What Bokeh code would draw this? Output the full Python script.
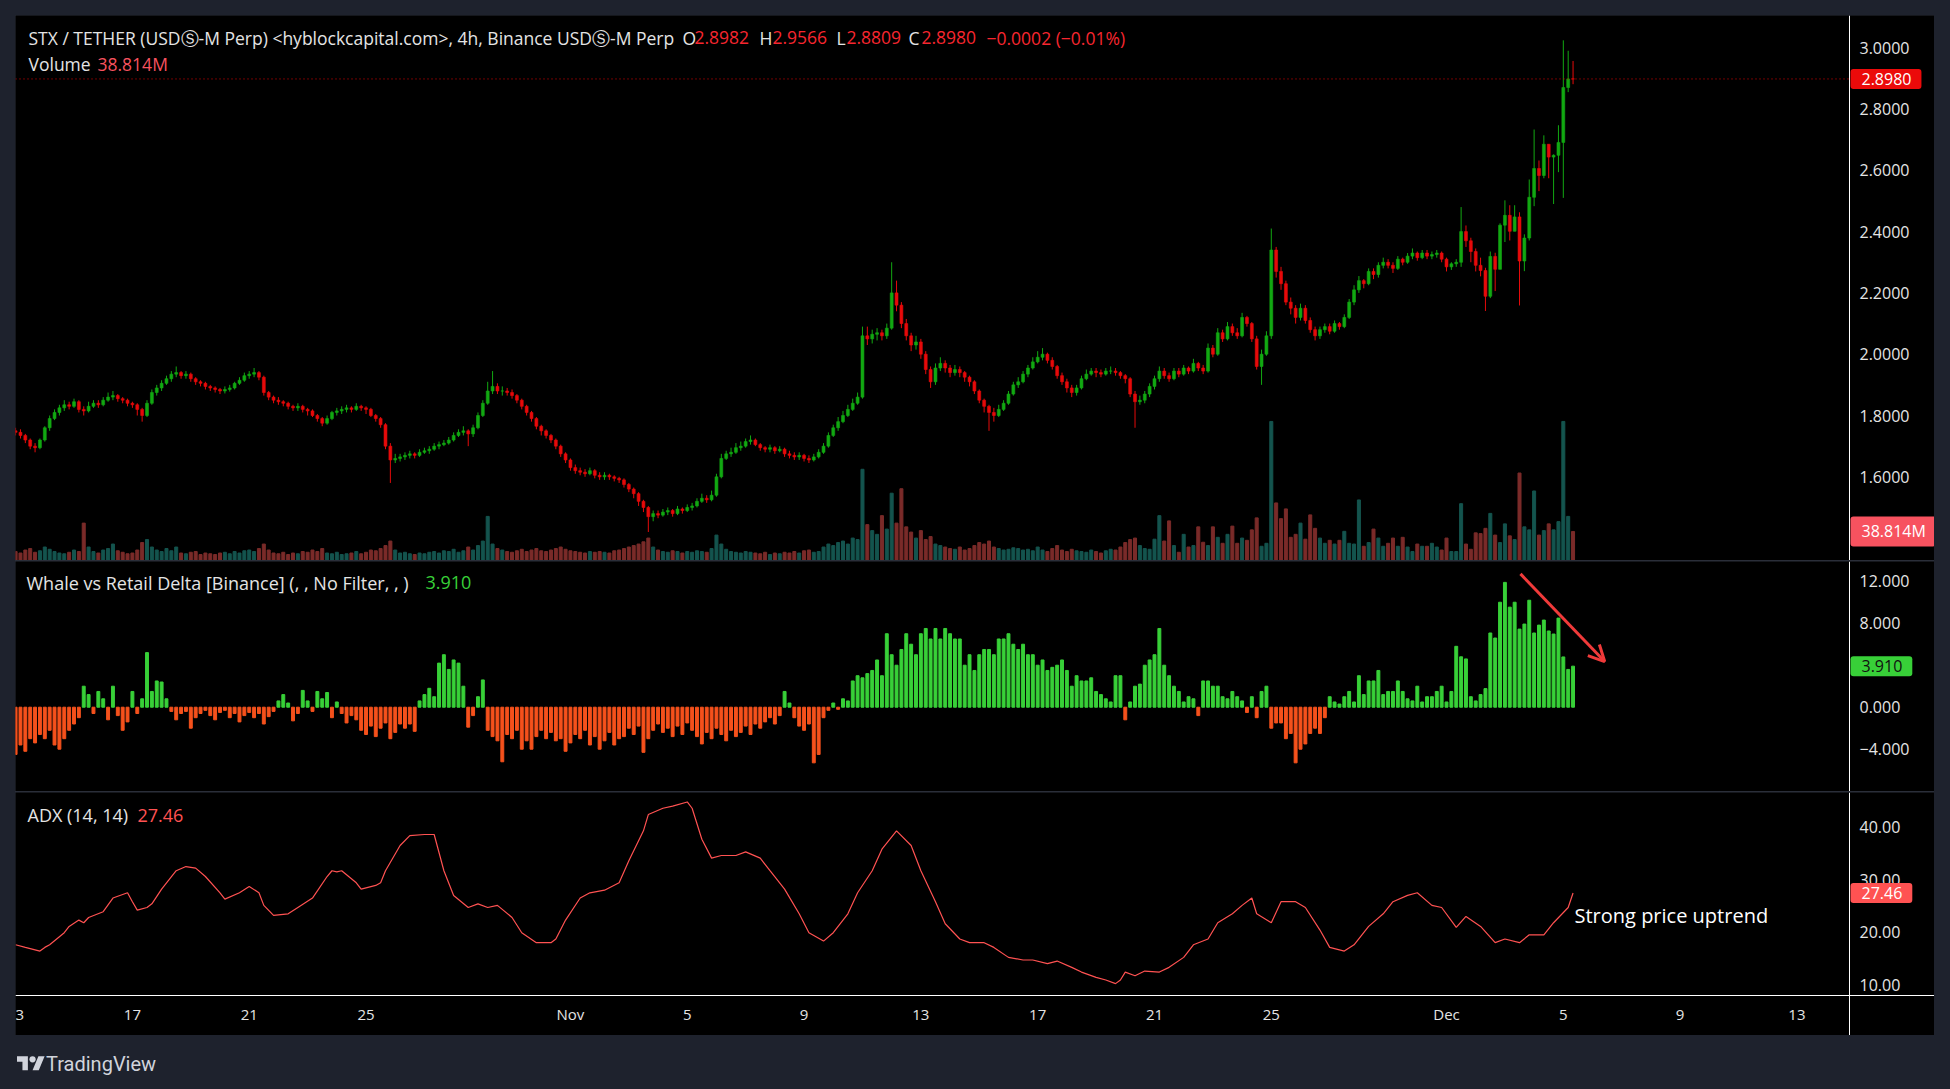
from bokeh.plotting import figure
from bokeh.models import (Range1d, FixedTicker, PrintfTickFormatter, Label,
                          Arrow, OpenHead, Div, Spacer, ColumnDataSource)
from bokeh.layouts import column, row
from bokeh.embed import file_html
from bokeh.resources import INLINE

# ---------------- data (4h candles, index 0 = Oct 13 00:00) ----------------
day_ticks = [0, 24, 48, 72, 114, 138, 162, 186, 210, 234, 258, 294, 318, 342, 366]
# first label is cut by the left edge in the source chart: only "3" of "13" shows
day_labels = ["3", "17", "21", "25", "Nov", "5", "9", "13", "17", "21", "25", "Dec", "5", "9", "13"]

open0 = 1.75
close = [
    1.745, 1.735, 1.72, 1.70, 1.695, 1.72, 1.76, 1.79, 1.81, 1.825,
    1.835, 1.83, 1.845, 1.82, 1.815, 1.83, 1.84, 1.835, 1.85, 1.86,
    1.865, 1.855, 1.85, 1.84, 1.835, 1.82, 1.80, 1.84, 1.875, 1.89,
    1.905, 1.92, 1.935, 1.94, 1.93, 1.935, 1.92, 1.91, 1.905, 1.895,
    1.89, 1.885, 1.88, 1.885, 1.89, 1.905, 1.915, 1.93, 1.935, 1.94,
    1.925, 1.875, 1.86, 1.85, 1.845, 1.84, 1.83, 1.825, 1.83, 1.82,
    1.815, 1.80, 1.79, 1.775, 1.79, 1.81, 1.815, 1.82, 1.825, 1.82,
    1.83, 1.825, 1.82, 1.80, 1.79, 1.77, 1.70, 1.655, 1.66, 1.665,
    1.67, 1.675, 1.67, 1.68, 1.685, 1.69, 1.70, 1.705, 1.71, 1.72,
    1.735, 1.745, 1.75, 1.74, 1.76, 1.80, 1.84, 1.88, 1.895, 1.88,
    1.88, 1.875, 1.865, 1.85, 1.83, 1.81, 1.79, 1.765, 1.75, 1.735,
    1.72, 1.70, 1.675, 1.655, 1.63, 1.62, 1.615, 1.61, 1.62, 1.605,
    1.60, 1.605, 1.60, 1.595, 1.59, 1.575, 1.56, 1.545, 1.52, 1.50,
    1.47, 1.48, 1.475, 1.485, 1.49, 1.48, 1.495, 1.49, 1.50, 1.505,
    1.52, 1.53, 1.525, 1.54, 1.60, 1.66, 1.675, 1.68, 1.695, 1.70,
    1.715, 1.72, 1.705, 1.695, 1.69, 1.695, 1.685, 1.69, 1.675, 1.67,
    1.665, 1.67, 1.66, 1.655, 1.665, 1.68, 1.70, 1.735, 1.76, 1.78,
    1.80, 1.82, 1.84, 1.86, 2.06, 2.05, 2.065, 2.07, 2.06, 2.085,
    2.20, 2.16, 2.10, 2.06, 2.03, 2.04, 2.00, 1.95, 1.91, 1.955,
    1.97, 1.955, 1.94, 1.95, 1.94, 1.925, 1.91, 1.88, 1.85, 1.83,
    1.81, 1.80, 1.82, 1.84, 1.87, 1.90, 1.91, 1.935, 1.955, 1.975,
    1.99, 2.00, 1.98, 1.96, 1.93, 1.91, 1.89, 1.875, 1.89, 1.92,
    1.935, 1.945, 1.94, 1.935, 1.945, 1.945, 1.94, 1.93, 1.92, 1.87,
    1.845, 1.85, 1.87, 1.895, 1.92, 1.945, 1.93, 1.92, 1.945, 1.935,
    1.955, 1.945, 1.97, 1.955, 1.945, 2.02, 2.00, 2.07, 2.05, 2.09,
    2.07, 2.06, 2.12, 2.10, 2.05, 1.96, 2.00, 2.06, 2.34, 2.27,
    2.23, 2.17, 2.15, 2.12, 2.15, 2.11, 2.08, 2.06, 2.08, 2.09,
    2.075, 2.10, 2.09, 2.12, 2.17, 2.21, 2.24, 2.23, 2.27, 2.26,
    2.29, 2.30, 2.29, 2.28, 2.31, 2.30, 2.32, 2.33, 2.315, 2.33,
    2.32, 2.325, 2.33, 2.31, 2.285, 2.295, 2.30, 2.40, 2.37, 2.335,
    2.29, 2.273, 2.189, 2.319, 2.277, 2.421, 2.453, 2.401, 2.448, 2.304,
    2.379, 2.512, 2.606, 2.583, 2.685, 2.643, 2.649, 2.691, 2.870, 2.8982,
    2.8980,
]
high = [
    1.76, 1.755, 1.74, 1.725, 1.71, 1.725, 1.765, 1.80, 1.82, 1.835,
    1.85, 1.845, 1.855, 1.85, 1.83, 1.845, 1.85, 1.85, 1.86, 1.875,
    1.88, 1.87, 1.86, 1.855, 1.845, 1.84, 1.825, 1.85, 1.885, 1.90,
    1.915, 1.93, 1.945, 1.96, 1.945, 1.945, 1.94, 1.925, 1.915, 1.91,
    1.90, 1.895, 1.89, 1.895, 1.90, 1.91, 1.925, 1.94, 1.945, 1.955,
    1.945, 1.93, 1.88, 1.865, 1.86, 1.85, 1.845, 1.835, 1.84, 1.835,
    1.825, 1.82, 1.805, 1.795, 1.80, 1.815, 1.825, 1.83, 1.835, 1.83,
    1.84, 1.835, 1.83, 1.825, 1.805, 1.795, 1.775, 1.71, 1.675, 1.675,
    1.68, 1.685, 1.68, 1.69, 1.695, 1.70, 1.71, 1.715, 1.72, 1.73,
    1.745, 1.755, 1.765, 1.755, 1.77, 1.81, 1.85, 1.91, 1.945, 1.905,
    1.895, 1.89, 1.885, 1.87, 1.855, 1.835, 1.815, 1.795, 1.77, 1.755,
    1.74, 1.725, 1.705, 1.68, 1.66, 1.64, 1.63, 1.625, 1.63, 1.625,
    1.615, 1.615, 1.61, 1.605, 1.60, 1.595, 1.58, 1.565, 1.55, 1.525,
    1.505, 1.49, 1.49, 1.495, 1.50, 1.495, 1.505, 1.50, 1.51, 1.515,
    1.53, 1.545, 1.54, 1.555, 1.61, 1.675, 1.685, 1.695, 1.71, 1.715,
    1.725, 1.735, 1.725, 1.71, 1.70, 1.705, 1.70, 1.70, 1.695, 1.685,
    1.68, 1.68, 1.675, 1.67, 1.675, 1.69, 1.71, 1.745, 1.77, 1.795,
    1.815, 1.835, 1.855, 1.875, 2.09, 2.09, 2.08, 2.085, 2.08, 2.10,
    2.30, 2.24, 2.17, 2.115, 2.07, 2.06, 2.05, 2.01, 1.96, 1.97,
    1.99, 1.98, 1.965, 1.965, 1.96, 1.945, 1.93, 1.915, 1.885, 1.855,
    1.835, 1.825, 1.835, 1.85, 1.88, 1.91, 1.925, 1.945, 1.965, 1.99,
    2.01, 2.02, 2.005, 1.99, 1.965, 1.94, 1.92, 1.90, 1.90, 1.93,
    1.95, 1.955, 1.955, 1.95, 1.955, 1.96, 1.955, 1.945, 1.935, 1.925,
    1.88, 1.865, 1.88, 1.905, 1.93, 1.96, 1.955, 1.94, 1.955, 1.955,
    1.965, 1.96, 1.985, 1.975, 1.965, 2.035, 2.03, 2.085, 2.08, 2.105,
    2.10, 2.085, 2.135, 2.125, 2.105, 2.06, 2.015, 2.075, 2.41, 2.35,
    2.285, 2.24, 2.185, 2.16, 2.165, 2.16, 2.12, 2.09, 2.09, 2.10,
    2.10, 2.11, 2.105, 2.13, 2.18, 2.225, 2.255, 2.245, 2.28, 2.28,
    2.30, 2.315, 2.31, 2.30, 2.32, 2.315, 2.33, 2.345, 2.335, 2.34,
    2.34, 2.335, 2.34, 2.335, 2.315, 2.30, 2.31, 2.48, 2.42, 2.38,
    2.345, 2.315, 2.282, 2.335, 2.331, 2.427, 2.502, 2.486, 2.486, 2.463,
    2.391, 2.570, 2.733, 2.632, 2.714, 2.685, 2.652, 2.747, 3.024, 2.99,
    2.9566,
]
low = [
    1.735, 1.725, 1.71, 1.69, 1.68, 1.69, 1.715, 1.75, 1.785, 1.80,
    1.815, 1.82, 1.825, 1.81, 1.80, 1.81, 1.825, 1.825, 1.83, 1.845,
    1.85, 1.845, 1.84, 1.83, 1.825, 1.80, 1.78, 1.795, 1.835, 1.865,
    1.88, 1.90, 1.91, 1.925, 1.92, 1.92, 1.91, 1.90, 1.895, 1.885,
    1.88, 1.875, 1.87, 1.872, 1.878, 1.885, 1.90, 1.91, 1.92, 1.925,
    1.915, 1.865, 1.85, 1.84, 1.835, 1.83, 1.82, 1.815, 1.815, 1.81,
    1.80, 1.795, 1.78, 1.765, 1.77, 1.785, 1.80, 1.805, 1.81, 1.81,
    1.815, 1.815, 1.805, 1.795, 1.78, 1.76, 1.69, 1.58, 1.645, 1.65,
    1.655, 1.66, 1.66, 1.665, 1.675, 1.675, 1.685, 1.69, 1.70, 1.705,
    1.715, 1.73, 1.735, 1.70, 1.73, 1.755, 1.795, 1.835, 1.87, 1.87,
    1.865, 1.865, 1.855, 1.84, 1.82, 1.80, 1.78, 1.755, 1.735, 1.725,
    1.71, 1.69, 1.665, 1.645, 1.62, 1.61, 1.605, 1.60, 1.605, 1.595,
    1.59, 1.59, 1.59, 1.585, 1.58, 1.565, 1.55, 1.53, 1.505, 1.485,
    1.42, 1.455, 1.465, 1.47, 1.475, 1.47, 1.475, 1.48, 1.485, 1.49,
    1.50, 1.515, 1.515, 1.52, 1.535, 1.595, 1.655, 1.665, 1.675, 1.685,
    1.695, 1.705, 1.70, 1.685, 1.68, 1.68, 1.675, 1.68, 1.665, 1.66,
    1.655, 1.655, 1.65, 1.645, 1.65, 1.66, 1.675, 1.695, 1.73, 1.75,
    1.775, 1.795, 1.815, 1.835, 1.855, 2.03, 2.035, 2.045, 2.045, 2.05,
    2.08, 2.14, 2.085, 2.045, 2.01, 2.015, 1.985, 1.935, 1.89, 1.90,
    1.945, 1.94, 1.925, 1.93, 1.925, 1.91, 1.895, 1.87, 1.84, 1.81,
    1.75, 1.78, 1.795, 1.815, 1.835, 1.865, 1.89, 1.905, 1.925, 1.95,
    1.97, 1.98, 1.97, 1.95, 1.92, 1.90, 1.875, 1.86, 1.865, 1.885,
    1.915, 1.93, 1.925, 1.925, 1.93, 1.935, 1.93, 1.92, 1.905, 1.86,
    1.76, 1.835, 1.84, 1.86, 1.885, 1.91, 1.92, 1.91, 1.915, 1.925,
    1.93, 1.935, 1.94, 1.945, 1.935, 1.94, 1.99, 1.995, 2.04, 2.045,
    2.06, 2.05, 2.055, 2.09, 2.04, 1.95, 1.90, 1.995, 2.05, 2.25,
    2.21, 2.16, 2.13, 2.10, 2.11, 2.10, 2.07, 2.045, 2.05, 2.07,
    2.065, 2.07, 2.08, 2.085, 2.115, 2.16, 2.20, 2.215, 2.225, 2.245,
    2.25, 2.28, 2.28, 2.265, 2.275, 2.29, 2.295, 2.31, 2.305, 2.31,
    2.31, 2.31, 2.315, 2.30, 2.27, 2.275, 2.285, 2.285, 2.35, 2.30,
    2.27, 2.254, 2.141, 2.183, 2.206, 2.277, 2.366, 2.371, 2.401, 2.159,
    2.271, 2.371, 2.483, 2.532, 2.574, 2.574, 2.490, 2.594, 2.510, 2.855,
    2.8809,
]
volume_m = [
    12, 10, 14, 16, 11, 13, 18, 15, 12, 10,
    9, 11, 14, 12, 50, 18, 12, 10, 14, 16,
    22, 13, 11, 9, 10, 14, 24, 28, 18, 14,
    12, 16, 13, 18, 10, 9, 11, 12, 8, 10,
    9, 8, 10, 11, 9, 12, 10, 13, 14, 12,
    16, 22, 14, 10, 9, 11, 8, 10, 9, 12,
    11, 14, 12, 16, 10, 9, 11, 8, 9, 10,
    12, 9, 11, 14, 13, 16, 20, 26, 14, 10,
    11, 9, 8, 10, 9, 11, 12, 10, 13, 12,
    15, 11, 13, 18, 14, 20, 26, 59, 22, 16,
    14, 12, 11, 13, 15, 12, 14, 16, 13, 12,
    14, 16, 18, 15, 13, 12, 11, 10, 12, 11,
    12, 11, 10, 13, 14, 16, 18, 20, 22, 25,
    30, 18, 14, 12, 11, 13, 12, 10, 12, 11,
    13, 12, 11, 16, 34, 22, 15, 12, 11, 10,
    12, 11, 10, 9, 11, 8, 10, 9, 11, 10,
    12, 10, 13, 14, 11, 12, 18, 22, 20, 24,
    26, 22, 30, 28, 122, 48, 40, 35, 60, 42,
    90, 50, 96, 45, 38, 30, 40, 28, 32, 22,
    20, 18, 16, 15, 18, 14, 16, 20, 24, 22,
    26, 18, 16, 14, 15, 17, 16, 14, 15, 13,
    18, 14, 12, 16, 20, 14, 12, 15, 13, 12,
    11, 14, 12, 10, 13, 15, 14, 18, 24, 28,
    30, 20, 16, 15, 28.5, 60, 26, 53, 20, 11,
    35, 18, 20, 45, 24.4, 20, 45, 31, 23, 35,
    46, 23, 30, 27, 41, 57, 19, 23, 186, 77,
    56, 69, 31, 35, 50, 28.5, 61, 43, 30, 23,
    27, 22, 27, 39, 23, 22, 81, 19, 24, 42,
    30, 19, 23, 30, 19, 31, 18, 12, 22, 19,
    19, 23, 18, 14, 30, 12, 12, 76, 22, 15,
    37, 36, 43, 63, 34, 24, 49, 33, 28, 117,
    45, 41, 93, 34, 40, 49, 41, 52, 186, 59,
    38.814,
]
delta = [
    -4.5, -3.6, -4.2, -3.0, -3.4, -2.6, -3.0, -2.2, -3.6, -4.0,
    -3.0, -2.2, -1.6, -1.0, 2.0, 1.2, -0.6, 1.5, 0.8, -1.2,
    2.0, -0.8, -2.2, -1.4, 1.5, -0.6, 0.8, 5.2, 1.5, 2.5,
    2.4, 0.8, -0.4, -1.2, -0.6, -0.4, -2.0, -1.0, -0.6, -0.3,
    -0.8, -1.2, -0.5, -0.3, -1.0, -0.6, -1.4, -0.8, -0.5, -1.0,
    -0.6, -1.6, -0.9, -0.4, 0.6, 1.2, 0.4, -1.3, -0.6, 1.6,
    0.6, -0.4, 1.5, 0.8, 1.4, -1.0, 0.5, -0.6, -1.5, -0.8,
    -1.2, -2.2, -2.6, -1.8, -2.8, -2.0, -1.5, -3.0, -2.4, -1.6,
    -2.0, -1.6, -2.3, 0.6, 1.2, 1.8, 1.0, 4.2, 5.0, 3.6,
    4.5, 4.2, 2.0, -1.9, -0.8, 1.0, 2.6, -2.2, -2.8, -3.2,
    -5.2, -2.6, -3.0, -2.2, -4.0, -3.2, -4.0, -2.8, -2.2, -3.0,
    -2.4, -3.2, -3.0, -4.2, -3.4, -2.6, -3.0, -2.2, -3.6, -2.8,
    -4.0, -3.2, -2.4, -3.6, -3.0, -2.8, -2.0, -2.6, -1.8, -4.3,
    -3.0, -2.2, -1.6, -2.4, -2.0, -2.8, -1.8, -2.6, -1.5, -2.2,
    -2.8, -3.5, -2.4, -3.0, -2.0, -2.6, -3.2, -2.2, -2.8, -2.4,
    -1.8, -2.6, -1.6, -2.0, -1.4, -1.0, -1.6, -0.8, 1.5, 0.4,
    -1.0, -1.8, -2.2, -1.6, -5.3, -4.5, -1.0, -0.3, 0.4, -0.2,
    0.8, 0.6, 2.5, 3.0, 2.8, 3.2, 3.5, 4.5, 3.0, 7.0,
    5.0, 4.0, 5.5, 7.0, 6.0, 5.0, 7.0, 7.5, 6.5, 7.5,
    6.5, 7.5, 7.0, 6.5, 6.5, 4.0, 5.0, 3.5, 5.0, 5.5,
    5.5, 5.0, 6.5, 6.5, 7.0, 6.0, 5.5, 6.0, 5.0, 5.0,
    4.0, 4.5, 3.5, 3.8, 4.0, 4.5, 3.5, 2.0, 3.0, 2.5,
    2.5, 2.8, 1.5, 1.2, 0.8, 0.5, 3.0, 3.0, -1.2, 0.5,
    2.0, 2.2, 4.0, 4.5, 5.0, 7.5, 4.0, 3.0, 2.0, 1.5,
    0.5, 1.0, 0.8, -0.8, 2.5, 2.5, 2.0, 2.0, 1.0, 0.8,
    1.5, 1.0, 0.6, -0.5, 1.0, -1.0, 1.5, 2.0, -2.0, -1.5,
    -1.5, -3.0, -2.5, -5.3, -4.0, -3.5, -2.5, -2.0, -2.5, -1.0,
    1.0, 0.5, 0.3, 1.0, 1.5, 0.5, 3.0, 1.2, 2.5, 2.5,
    3.5, 1.2, 1.5, 1.5, 2.5, 1.5, 0.8, 0.6, 2.0, 0.5,
    1.0, 1.0, 1.5, 2.0, 0.5, 1.5, 5.8, 4.8, 4.6, 1.0,
    0.6, 1.2, 1.77, 7.07, 6.59, 10.0, 11.89, 9.53, 10.0, 7.44,
    7.92, 10.19, 7.07, 7.82, 8.30, 7.26, 6.97, 8.49, 4.79, 3.6,
    3.91,
]
adx_idx = [
    0, 2, 5, 6, 7, 10, 11, 13, 14, 15, 18, 20, 23, 24, 25, 27, 28, 30, 33, 35,
    37, 39, 42, 43, 46, 48, 50, 51, 53, 56, 58, 61, 64, 65, 66, 67, 70, 71, 74, 75,
    76, 79, 81, 84, 86, 88, 90, 93, 95, 97, 99, 102, 104, 107, 110, 111, 113, 116, 118, 121,
    124, 126, 129, 130, 133, 135, 138, 139, 141, 143, 145, 148, 150, 153, 155, 158, 161, 163, 166, 168,
    171, 173, 176, 178, 181, 184, 186, 189, 191, 194, 196, 199, 201, 204, 207, 209, 212, 214, 217, 219,
    222, 224, 226, 227, 228, 230, 232, 235, 237, 240, 242, 245, 247, 250, 252, 254, 255, 258, 260, 263,
    265, 268, 270, 273, 275, 278, 281, 283, 286, 288, 291, 293, 296, 298, 301, 304, 306, 309, 311, 314,
    316, 319, 320,
]
adx_val = [
    17.6, 17.1, 16.4, 17.1, 17.6, 19.9, 21.1, 22.3, 21.8, 22.8, 23.9, 26.5, 27.5, 25.8, 24.2, 24.7, 25.4, 28.2, 31.7, 32.5,
    32.2, 30.6, 27.5, 26.3, 27.5, 28.7, 27.5, 25.1, 23.2, 23.5, 24.7, 26.5, 30.6, 31.7, 31.5, 31.7, 29.4, 28.2, 28.9, 29.4,
    31.7, 36.5, 38.4, 38.6, 38.6, 31.7, 27.0, 24.7, 25.4, 24.7, 25.1, 22.8, 19.9, 18.0, 18.0, 18.7, 22.3, 26.5, 27.5, 28.0,
    29.4, 33.6, 39.3, 42.4, 43.6, 44.0, 44.8, 43.6, 37.7, 34.1, 34.6, 34.6, 35.3, 34.1, 31.7, 28.2, 23.5, 19.9, 18.3, 19.9,
    23.5, 27.5, 31.7, 35.8, 39.3, 36.5, 31.7, 25.8, 21.6, 18.7, 18.0, 18.0, 17.1, 15.2, 14.7, 14.7, 14.0, 14.5, 13.3, 12.4,
    11.4, 10.9, 10.2, 10.9, 12.4, 11.7, 12.6, 12.4, 13.3, 15.2, 17.6, 18.7, 21.8, 23.5, 25.1, 26.5, 23.5, 21.8, 25.8, 25.8,
    24.7, 20.4, 17.1, 16.4, 17.6, 21.1, 23.5, 25.8, 27.0, 27.5, 25.1, 24.7, 20.9, 23.0, 21.1, 18.0, 18.7, 18.0, 19.5, 19.5,
    21.8, 24.7, 27.46,
]
price_ticks = [1.6, 1.8, 2.0, 2.2, 2.4, 2.6, 2.8, 3.0]
delta_ticks = [-4, 0, 8, 12]
adx_ticks = [10, 20, 30, 40]

# ---------------- styling ----------------
UP, DN = "#12a812", "#e60a0a"
VUP, VDN = "#14544e", "#7a2b29"
DPOS, DNEG = "#38d038", "#f5511c"
ADXC = "#ff5252"
TXT = "#e4e4e4"
FONT = "Open Sans"
FW = 1919          # figure width = plot area + price-scale strip
FRAME_W = 1834     # plot area width (price-scale strip is the remaining 85px)
X0, AXIS_X = -0.02, 376.8
X1 = X0 + (AXIS_X - X0) * FW / FRAME_W

n = len(close)
xs = list(range(n))
opens = [open0] + close[:-1]
isup = [c >= o for o, c in zip(opens, close)]
src = ColumnDataSource(dict(
    x=xs, h=high, l=low,
    top=[max(o, c) for o, c in zip(opens, close)],
    bot=[min(o, c) for o, c in zip(opens, close)],
    col=[UP if u else DN for u in isup],
    vol=volume_m,
    vcol=[VUP if u else VDN for u in isup],
))
dsrc = ColumnDataSource(dict(x=xs, d=delta, col=[DPOS if d >= 0 else DNEG for d in delta]))

xr = Range1d(X0, X1)


def make_fig(h, yr, xaxis=None):
    p = figure(width=FW, height=h, x_range=xr, y_range=yr, output_backend="svg",
               toolbar_location=None, y_axis_location="right", x_axis_location=xaxis,
               min_border_left=0, min_border_right=0, min_border_top=0, min_border_bottom=0,
               background_fill_color="black", border_fill_color="black", outline_line_color=None)
    p.grid.visible = False
    ax = p.yaxis[0]
    ax.fixed_location = AXIS_X
    ax.axis_line_color = "white"
    ax.major_tick_line_color = None
    ax.minor_tick_line_color = None
    ax.major_tick_out = 0
    ax.major_tick_in = 0
    ax.minor_tick_out = 0
    ax.major_label_standoff = 10
    ax.major_label_text_color = TXT
    ax.major_label_text_font = FONT
    ax.major_label_text_font_size = "16px"
    return p


def tlabel(p, x, y, text, color, size="17.5px"):
    p.add_layout(Label(x=x, y=y, x_units="screen", y_units="screen", text=text,
                       text_color=color, text_font=FONT, text_font_size=size,
                       text_baseline="middle", text_align="left"))


def vbox(p, y, text, bg, fg, rng="default"):
    p.add_layout(Label(x=FRAME_W + 1, y=y, x_units="screen", y_units="data", y_range_name=rng,
                       text=text, text_color=fg, text_font=FONT, text_font_size="16px",
                       text_baseline="middle", text_align="left",
                       background_fill_color=bg, border_radius=3,
                       padding=dict(left=11, right=10, top=4, bottom=4)))


# ---- price pane ----
p1 = make_fig(545, Range1d(1.327, 3.105))
p1.extra_y_ranges = {"vol": Range1d(0, 729)}
p1.yaxis[0].ticker = FixedTicker(ticks=price_ticks)
p1.yaxis[0].formatter = PrintfTickFormatter(format="%.4f")
p1.vbar(x="x", top="vol", bottom=0, width=0.62, color="vcol", y_range_name="vol", source=src)
p1.segment(x0="x", y0="h", x1="x", y1="l", color="col", line_width=1, source=src)
p1.vbar(x="x", top="top", bottom="bot", width=0.6, fill_color="col", line_color="col",
        line_width=0.6, source=src)
p1.segment(x0=[X0], y0=[close[-1]], x1=[AXIS_X], y1=[close[-1]], line_color="#e00000",
           line_dash="1 3", line_width=1)
title_y = 545 - 22.3
tlabel(p1, 13, title_y, "STX / TETHER (USD\u24c8-M Perp) <hyblockcapital.com>, 4h, Binance USD\u24c8-M Perp", TXT)
for xx, t, c in [(667, "O", TXT), (679, "2.8982", "#f7262f"), (744, "H", TXT), (757, "2.9566", "#f7262f"),
                 (821, "L", TXT), (831, "2.8809", "#f7262f"), (893, "C", TXT), (906, "2.8980", "#f7262f"),
                 (971, "\u22120.0002 (\u22120.01%)", "#f7262f")]:
    tlabel(p1, xx, title_y, t, c)
tlabel(p1, 13, 545 - 48.4, "Volume", TXT)
tlabel(p1, 82, 545 - 48.4, "38.814M", "#f7525f")
vbox(p1, close[-1], "2.8980", "#eb0a0a", "white")
vbox(p1, volume_m[-1], "38.814M", "#f7525f", "white", rng="vol")

# ---- delta pane ----
p2 = make_fig(230, Range1d(-8.03, 13.88))
p2.yaxis[0].ticker = FixedTicker(ticks=delta_ticks)
p2.yaxis[0].formatter = PrintfTickFormatter(format="%.3f")
p2.yaxis[0].major_label_overrides = {-4: "\u22124.000"}
p2.vbar(x="x", top="d", bottom=0, width=0.6, color="col", source=dsrc)
tlabel(p2, 11, 230 - 21, "Whale vs Retail Delta [Binance] (, , No Filter, , )", TXT, "18px")
tlabel(p2, 410, 230 - 21, "3.910", DPOS, "18px")
vbox(p2, delta[-1], "3.910", DPOS, "#111111")
p2.add_layout(Arrow(end=OpenHead(size=16, line_color="#f03a3a", line_width=3),
                    x_start=309.2, y_start=12.7, x_end=326.5, y_end=4.35,
                    line_color="#f03a3a", line_width=3))

# ---- ADX pane + time axis strip (ADX frame 203px, time strip 40px below) ----
ADX_LO, ADX_HI = 7.94, 46.6
adx_strip = 40 * (ADX_HI - ADX_LO) / 203
p3 = make_fig(243, Range1d(ADX_LO - adx_strip, ADX_HI), xaxis="below")
p3.yaxis[0].ticker = FixedTicker(ticks=adx_ticks)
p3.yaxis[0].formatter = PrintfTickFormatter(format="%.2f")
xa = p3.xaxis[0]
xa.fixed_location = ADX_LO
xa.ticker = FixedTicker(ticks=day_ticks)
xa.major_label_overrides = {t: s for t, s in zip(day_ticks, day_labels)}
xa.axis_line_color = "white"
xa.major_tick_line_color = None
xa.minor_tick_line_color = None
xa.major_tick_out = 0
xa.major_tick_in = 0
xa.minor_tick_out = 0
xa.major_label_standoff = 8
xa.major_label_text_color = TXT
xa.major_label_text_font = FONT
xa.major_label_text_font_size = "15px"
p3.line(adx_idx, adx_val, color=ADXC, line_width=1.2)
tlabel(p3, 12, 243 - 22.5, "ADX (14, 14)", TXT, "18px")
tlabel(p3, 122, 243 - 22.5, "27.46", ADXC, "18px")
vbox(p3, adx_val[-1], "27.46", ADXC, "white")
p3.add_layout(Label(x=320.3, y=23.2, text="Strong price uptrend", text_color="white",
                    text_font=FONT, text_font_size="20px", text_baseline="middle", text_align="left"))

logo_svg = ('<svg width="28" height="22" viewBox="0 0 36 28" xmlns="http://www.w3.org/2000/svg">'
            '<path d="M14 22H7V11H0V4h14v18zM28 22h-8l7.5-18h8L28 22z" fill="#d1d4dc"/>'
            '<circle cx="20" cy="8" r="4" fill="#d1d4dc"/></svg>')
logo = Div(text=('<div style="display:flex;align-items:center;gap:1px;padding:10px 0 0 12px;'
                 'color:#d1d4dc;font-family:Roboto;font-size:20px;">' + logo_svg +
                 '<span>TradingView</span></div>'), width=1950, height=53)

inner = column(p1, p2, p3, spacing=1, styles={"background-color": "#2a2e39"})
mid = row(Spacer(width=15, height=1020), inner, Spacer(width=16, height=1020))
layout = column(Spacer(width=1950, height=15), mid, logo, styles={"background-color": "#1e222d"})

open("out.html", "w").write(file_html(layout, INLINE))
